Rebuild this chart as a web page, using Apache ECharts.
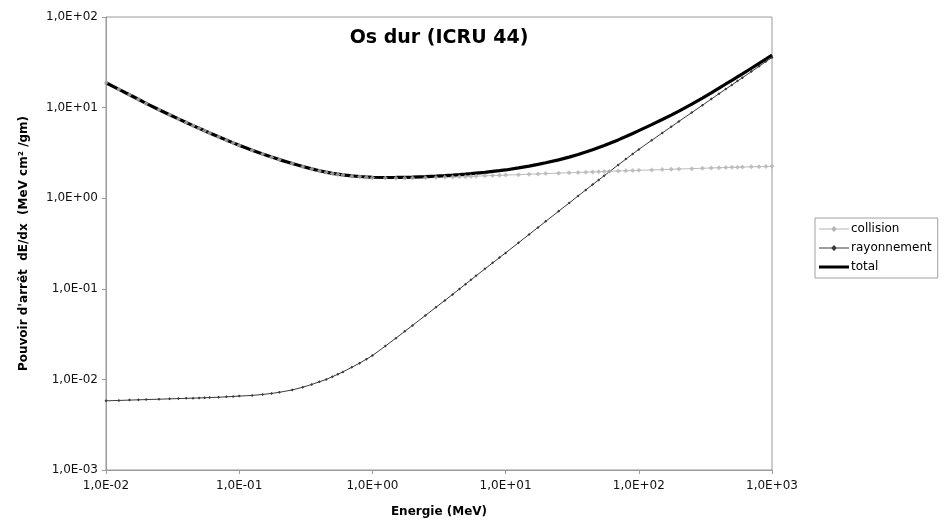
<!DOCTYPE html>
<html>
<head>
<meta charset="utf-8">
<script src="https://cdn.jsdelivr.net/npm/echarts@6/dist/echarts.min.js"></script>
<style>
  html, body { margin: 0; padding: 0; background: #fff; }
  #chart { width: 947px; height: 523px; }
</style>
</head>
<body>
<div id="chart"></div>
<script>
// Electron energies (MeV)
const energies = [
  0.01, 0.0125, 0.015, 0.0175, 0.02, 0.025, 0.03, 0.035, 0.04, 0.045, 0.05, 0.055, 0.06, 0.07, 0.08, 0.09,
  0.1, 0.125, 0.15, 0.175, 0.2, 0.25, 0.3, 0.35, 0.4, 0.45, 0.5, 0.55, 0.6, 0.7, 0.8, 0.9,
  1, 1.25, 1.5, 1.75, 2, 2.5, 3, 3.5, 4, 4.5, 5, 5.5, 6, 7, 8, 9,
  10, 12.5, 15, 17.5, 20, 25, 30, 35, 40, 45, 50, 55, 60, 70, 80, 90,
  100, 125, 150, 175, 200, 250, 300, 350, 400, 450, 500, 550, 600, 700, 800, 900,
  1000
];

// Collision stopping power (MeV cm2/g)
const collision = [
  18.8, 15.9, 13.87, 12.36, 11.13, 9.47, 8.33, 7.49, 6.84, 6.32, 5.90, 5.54, 5.24, 4.75, 4.37, 4.07,
  3.83, 3.38, 3.07, 2.84, 2.66, 2.41, 2.23, 2.10, 2.00, 1.93, 1.87, 1.83, 1.80, 1.75, 1.72, 1.70,
  1.685, 1.67, 1.665, 1.665, 1.67, 1.68, 1.69, 1.70, 1.71, 1.72, 1.73, 1.74, 1.75, 1.765, 1.78, 1.79,
  1.80, 1.82, 1.84, 1.855, 1.87, 1.89, 1.91, 1.925, 1.94, 1.95, 1.96, 1.97, 1.98, 1.995, 2.01, 2.02,
  2.03, 2.05, 2.07, 2.085, 2.10, 2.12, 2.14, 2.155, 2.17, 2.18, 2.19, 2.20, 2.205, 2.22, 2.23, 2.24,
  2.25
];

// Radiative stopping power (MeV cm2/g)
const rayonnement = [
  0.00580, 0.00586, 0.00591, 0.00595, 0.00599, 0.00605, 0.00610, 0.00614, 0.00618, 0.00621, 0.00624, 0.00627, 0.00630, 0.00636, 0.00642, 0.00648,
  0.00654, 0.00666, 0.00682, 0.00700, 0.00720, 0.00765, 0.00820, 0.00880, 0.00940, 0.0100, 0.0107, 0.0114, 0.0121, 0.0136, 0.0151, 0.0167,
  0.0183, 0.0233, 0.0285, 0.0339, 0.0394, 0.0508, 0.0625, 0.0745, 0.0867, 0.0993, 0.1125, 0.1256, 0.1390, 0.1660, 0.1935, 0.2210,
  0.249, 0.322, 0.398, 0.475, 0.555, 0.718, 0.885, 1.058, 1.235, 1.413, 1.593, 1.772, 1.956, 2.328, 2.703, 3.081,
  3.458, 4.355, 5.25, 6.14, 7.04, 8.82, 10.61, 12.41, 14.23, 16.04, 17.80, 19.61, 21.38, 24.96, 28.58, 32.17,
  35.8
];

// Total stopping power (MeV cm2/g)
const total = [
  18.81, 15.91, 13.88, 12.37, 11.14, 9.48, 8.34, 7.50, 6.85, 6.33, 5.91, 5.55, 5.25, 4.76, 4.38, 4.08,
  3.84, 3.387, 3.077, 2.847, 2.667, 2.418, 2.238, 2.109, 2.009, 1.940, 1.881, 1.841, 1.812, 1.764, 1.735, 1.717,
  1.703, 1.693, 1.694, 1.699, 1.709, 1.731, 1.753, 1.775, 1.797, 1.819, 1.843, 1.866, 1.889, 1.931, 1.974, 2.011,
  2.05, 2.16, 2.26, 2.36, 2.46, 2.65, 2.84, 3.03, 3.23, 3.42, 3.62, 3.81, 4.01, 4.40, 4.79, 5.18,
  5.57, 6.48, 7.39, 8.27, 9.16, 10.94, 12.75, 14.565, 16.40, 18.22, 19.99, 21.81, 23.585, 27.18, 30.81, 34.41,
  38.05
];

// Decade tick labels
const xTickLabels = ['1,0E-02', '1,0E-01', '1,0E+00', '1,0E+01', '1,0E+02', '1,0E+03'];
const yTickLabels = ['1,0E-03', '1,0E-02', '1,0E-01', '1,0E+00', '1,0E+01', '1,0E+02'];
const xMinExp = -2, yMinExp = -3;

const pairs = (vals) => energies.map((e, i) => [e, vals[i]]);
const decadeLabel = (labels, minExp) => (v) => {
  const k = Math.round(Math.log10(v)) - minExp;
  return labels[k] !== undefined ? labels[k] : '';
};

const FONT = 'DejaVu Sans';
const AXIS_GREY = '#9a9a9a';

// legend keys: a thin line with a small marker in the middle, or a plain thick line
const ICON_MARKED = 'path://M0,4.4 H12.5 L15,2 L17.5,4.4 H30 V5.6 H17.5 L15,8 L12.5,5.6 H0 Z';
const ICON_THICK = 'path://M0,3.5 H30 V6.5 H0 Z';

const chart = echarts.init(document.getElementById('chart'), null, { renderer: 'canvas' });

chart.setOption({
  animation: false,
  backgroundColor: '#ffffff',
  title: {
    text: 'Os dur (ICRU 44)',
    left: 434,
    top: 24,
    textAlign: 'center',
    textStyle: { fontFamily: FONT, fontSize: 19, fontWeight: 'bold', color: '#000' }
  },
  legend: {
    orient: 'vertical',
    left: 815,
    top: 218,
    padding: [4, 6, 4, 4],
    itemWidth: 30,
    itemHeight: 10,
    itemGap: 5,
    borderColor: '#a0a0a0',
    borderWidth: 1,
    textStyle: { fontFamily: FONT, fontSize: 12, color: '#000', lineHeight: 14, padding: [0, 0, 0, -3] },
    data: [
      { name: 'collision', icon: ICON_MARKED },
      { name: 'rayonnement', icon: ICON_MARKED },
      { name: 'total', icon: ICON_THICK }
    ]
  },
  grid: {
    left: 106,
    right: 175,
    top: 17,
    bottom: 52,
    show: true,
    borderColor: AXIS_GREY,
    borderWidth: 1,
    backgroundColor: '#fff'
  },
  xAxis: {
    type: 'log',
    logBase: 10,
    min: 0.01,
    max: 1000,
    name: 'Energie (MeV)',
    nameLocation: 'middle',
    nameGap: 36,
    nameTextStyle: { fontFamily: FONT, fontSize: 12, fontWeight: 'bold', color: '#000' },
    axisLine: { show: true, lineStyle: { color: AXIS_GREY, width: 1 } },
    axisTick: { show: true, inside: false, length: 4, lineStyle: { color: AXIS_GREY } },
    minorTick: { show: false },
    splitLine: { show: false },
    axisLabel: {
      fontFamily: FONT, fontSize: 12, color: '#111', margin: 10,
      formatter: decadeLabel(xTickLabels, xMinExp)
    }
  },
  yAxis: {
    type: 'log',
    logBase: 10,
    min: 0.001,
    max: 100,
    name: "Pouvoir d'arrêt  dE/dx  (MeV cm² /gm)",
    nameLocation: 'middle',
    nameGap: 76,
    nameRotate: 90,
    nameTextStyle: { fontFamily: FONT, fontSize: 12, fontWeight: 'bold', color: '#000' },
    axisLine: { show: true, lineStyle: { color: AXIS_GREY, width: 1 } },
    axisTick: { show: true, inside: false, length: 4, lineStyle: { color: AXIS_GREY } },
    minorTick: { show: false },
    splitLine: { show: false },
    axisLabel: {
      fontFamily: FONT, fontSize: 12, color: '#111', margin: 8,
      formatter: decadeLabel(yTickLabels, yMinExp)
    }
  },
  series: [
    {
      // collision curve line, drawn beneath the total curve
      name: 'collision',
      type: 'line',
      data: pairs(collision),
      z: 2,
      showSymbol: false,
      symbol: 'diamond',
      symbolSize: 5,
      itemStyle: { color: '#b5b5b5' },
      lineStyle: { color: '#bdbdbd', width: 1 },
      emphasis: { disabled: true }
    },
    {
      name: 'rayonnement',
      type: 'line',
      data: pairs(rayonnement),
      z: 3,
      symbol: 'diamond',
      symbolSize: 3,
      itemStyle: { color: '#3a3a3a' },
      lineStyle: { color: '#3a3a3a', width: 1 },
      emphasis: { disabled: true }
    },
    {
      name: 'total',
      type: 'line',
      data: pairs(total),
      z: 4,
      showSymbol: false,
      symbol: 'none',
      itemStyle: { color: '#000' },
      lineStyle: { color: '#000', width: 3.2 },
      emphasis: { disabled: true }
    },
    {
      // collision point markers, drawn above the total curve
      name: 'collision',
      type: 'scatter',
      data: pairs(collision),
      z: 5,
      symbol: 'diamond',
      symbolSize: 5,
      itemStyle: { color: '#b5b5b5' },
      emphasis: { disabled: true }
    }
  ]
});
</script>
</body>
</html>
